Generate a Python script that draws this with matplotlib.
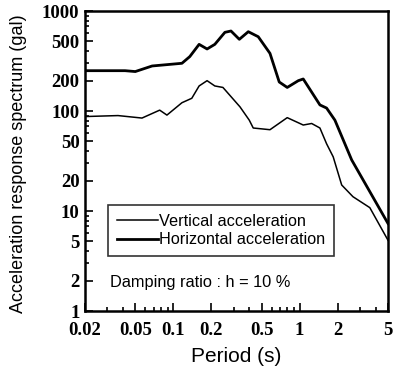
import matplotlib
matplotlib.use("Agg")
import matplotlib.pyplot as plt
from matplotlib.ticker import FixedLocator, NullFormatter, FixedFormatter, LogLocator

# Data
period_h = [0.02, 0.0415, 0.05, 0.068, 0.117, 0.135, 0.16, 0.185, 0.213, 0.256, 0.286,
            0.333, 0.392, 0.47, 0.582, 0.689, 0.797, 0.975, 1.067, 1.446, 1.633, 1.90,
            2.58, 5.0]
horizontal = [253, 253, 248, 282, 300, 350, 464, 417, 464, 612, 631,
              521, 621, 553, 377, 195, 172, 201, 209, 115, 107, 81,
              32.4, 7.5]

period_v = [0.02, 0.0365, 0.0565, 0.078, 0.089, 0.117, 0.14, 0.16, 0.185, 0.213, 0.247,
            0.337, 0.399, 0.429, 0.582, 0.797, 1.067, 1.244, 1.446, 1.633, 1.842, 2.15,
            2.64, 3.59, 5.0]
vertical = [88, 90, 85, 102, 91, 121, 134, 178, 201, 178, 172,
            110, 81, 67.6, 65, 85.8, 72.4, 75, 67.6, 47, 34.8, 18.2,
            13.9, 10.8, 5.1]

xticks = [0.02, 0.05, 0.1, 0.2, 0.5, 1, 2, 5]
xticklabels = ["0.02", "0.05", "0.1", "0.2", "0.5", "1", "2", "5"]
yticks = [1, 2, 5, 10, 20, 50, 100, 200, 500, 1000]
yticklabels = ["1", "2", "5", "10", "20", "50", "100", "200", "500", "1000"]

fig = plt.figure(figsize=(3.94, 3.71), dpi=100)
ax = fig.add_axes([85/394, 1-311/371, 303/394, 300/371])

ax.plot(period_v, vertical, color="black", lw=1.1, label="Vertical acceleration")
ax.plot(period_h, horizontal, color="black", lw=2.0, label="Horizontal acceleration")

ax.set_xscale("log")
ax.set_yscale("log")
ax.set_xlim(0.02, 5)
ax.set_ylim(1, 1000)

serif = ["Liberation Serif", "DejaVu Serif"]
sans = ["Liberation Sans", "DejaVu Sans"]

ax.xaxis.set_major_locator(FixedLocator(xticks))
ax.xaxis.set_major_formatter(FixedFormatter(xticklabels))
ax.xaxis.set_minor_locator(LogLocator(base=10, subs=range(1, 10)))
ax.xaxis.set_minor_formatter(NullFormatter())
ax.yaxis.set_major_locator(FixedLocator(yticks))
ax.yaxis.set_major_formatter(FixedFormatter(yticklabels))
ax.yaxis.set_minor_locator(LogLocator(base=10, subs=range(1, 10)))
ax.yaxis.set_minor_formatter(NullFormatter())

ax.tick_params(which="both", direction="in", top=False, right=False, width=1.2)
ax.tick_params(which="major", length=6)
ax.tick_params(axis="x", which="major", pad=8)
ax.tick_params(axis="y", which="major", pad=4)
ax.tick_params(which="minor", length=3)
for lab in ax.get_xticklabels() + ax.get_yticklabels():
    lab.set_fontfamily(serif)
    lab.set_fontsize(13.5)
    lab.set_fontweight("bold")

for s in ax.spines.values():
    s.set_linewidth(1.8)

ax.set_xlabel("Period (s)", family=sans, fontsize=15, labelpad=6)
ax.set_ylabel("Acceleration response spectrum (gal)", family=sans, fontsize=13, labelpad=6)
ax.yaxis.set_label_coords(-0.19, 0.49)

leg = ax.legend(loc="upper left", bbox_to_anchor=(0.076, 0.353), frameon=True,
                fancybox=False, edgecolor="black", handlelength=2.5, handletextpad=0.1,
                borderpad=0.55, labelspacing=0.2, borderaxespad=0,
                prop={"family": sans, "size": 11.7})
leg.get_frame().set_linewidth(1.2)

ax.text(0.083, 0.095, "Damping ratio : h = 10 %", transform=ax.transAxes,
        family=sans, fontsize=11.8, va="center", ha="left")

fig.savefig("out.png", dpi=100)
